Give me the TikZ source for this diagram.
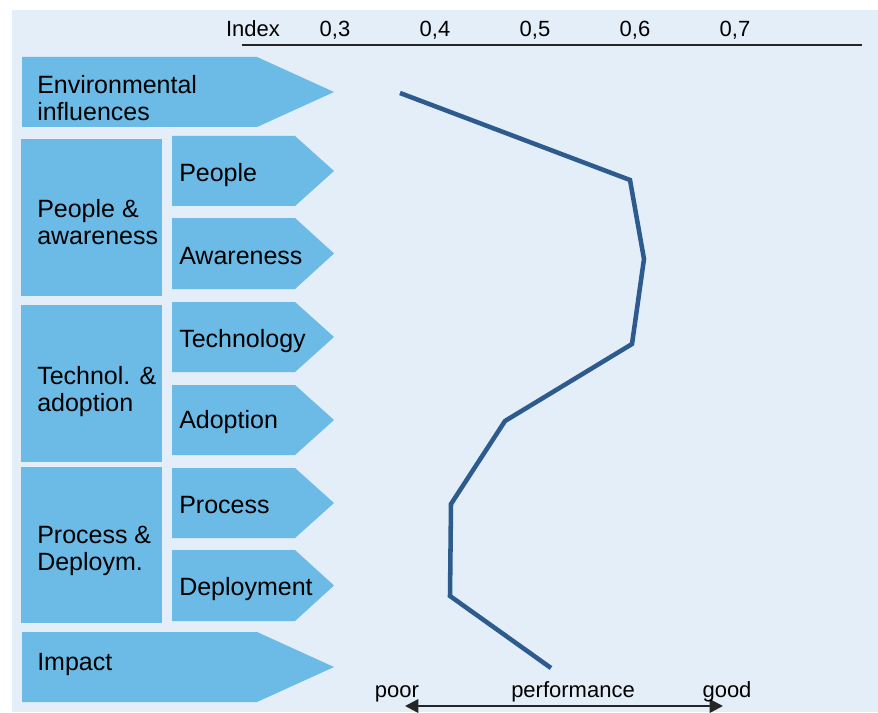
\documentclass[tikz,border=0pt]{standalone}
\usepackage{fontspec}
\setmainfont{Liberation Sans}
\usetikzlibrary{arrows.meta}
\definecolor{bgblue}{HTML}{E3EEF9}
\definecolor{boxblue}{HTML}{6CBAE6}
\definecolor{curveblue}{HTML}{2E5B8E}
\begin{document}
\begin{tikzpicture}[x=0.75pt,y=-0.75pt]

  % Definitions
  \tikzstyle{Box} = [fill=boxblue]
  \tikzstyle{Label} = [anchor=north west, align=left, inner sep=0pt, font=\fontsize{18.75pt}{20.5pt}\selectfont]
  \tikzstyle{Tick} = [anchor=base, inner sep=0pt, font=\fontsize{16.5pt}{19pt}\selectfont]
  \tikzstyle{arrow} = [line width=1.8pt,<->,>={Triangle[length=10pt,width=10pt]}]

  \useasboundingbox (0,0) rectangle (878,713);
  \fill[bgblue] (12,10) rectangle (878,712);

  % index axis
  \coordinate (axisL) at (242,45);
  \coordinate (axisR) at (862,45);
  \draw[line width=2pt, black!85] (axisL) -- (axisR);
  \node (index) [Tick] at (253,37) {Index};
  \node (t3) [Tick] at (335,37) {0,3};
  \node (t4) [Tick] at (435,37) {0,4};
  \node (t5) [Tick] at (535,37) {0,5};
  \node (t6) [Tick] at (635,37) {0,6};
  \node (t7) [Tick] at (735,37) {0,7};

  % outer arrows
  \fill[Box] (22,57) -- (257,57) -- (334,92) -- (257,127) -- (22,127) -- cycle;
  \fill[Box] (22,632) -- (257,632) -- (334,667) -- (257,702) -- (22,702) -- cycle;

  % group boxes
  \fill[Box] (21,139) rectangle (162,296);
  \fill[Box] (21,305) rectangle (162,462);
  \fill[Box] (21,467) rectangle (162,623);

  % inner arrows
  \fill[Box] (172,136) -- (295,136) -- (334,171) -- (295,206) -- (172,206) -- cycle;
  \fill[Box] (172,218) -- (295,218) -- (334,253.5) -- (295,289) -- (172,289) -- cycle;
  \fill[Box] (172,302) -- (295,302) -- (334,337) -- (295,372) -- (172,372) -- cycle;
  \fill[Box] (172,385) -- (295,385) -- (334,420) -- (295,455) -- (172,455) -- cycle;
  \fill[Box] (172,468) -- (295,468) -- (334,503) -- (295,538) -- (172,538) -- cycle;
  \fill[Box] (172,550) -- (295,550) -- (334,585.5) -- (295,621) -- (172,621) -- cycle;

  % labels
  \node (envL) [Label] at (37,75) {Environmental\\influences};
  \node (peopleawL) [Label] at (37,199) {People \&\\awareness};
  \node (techadL) [Label] at (37,366) {Technol. \&\\adoption};
  \node (procdepL) [Label] at (37,526) {Process \&\\Deploym.};
  \node (peopleL) [Label] at (179,163) {People};
  \node (awareL) [Label] at (179,247) {Awareness};
  \node (techL) [Label] at (179,329) {Technology};
  \node (adoptL) [Label] at (179,410) {Adoption};
  \node (procL) [Label] at (179,496) {Process};
  \node (deplL) [Label] at (179,577) {Deployment};
  \node (impactL) [Label] at (37,653) {Impact};

  % index curve
  \coordinate (env) at (400,93);
  \coordinate (people) at (630,180);
  \coordinate (aware) at (644,259);
  \coordinate (tech) at (632,344);
  \coordinate (adopt) at (505,421);
  \coordinate (proc) at (451,504);
  \coordinate (depl) at (450,596);
  \coordinate (impact) at (551,668);
  \draw[curveblue, line width=3.4pt] (env) -- (people) -- (aware) -- (tech) -- (adopt) -- (proc) -- (depl) -- (impact);

  % performance scale
  \coordinate (poorend) at (405,706);
  \coordinate (goodend) at (723,706);
  \draw[arrow, black!85] (poorend) -- (goodend);
  \node (poor) [Tick] at (397,697) {poor};
  \node (perf) [Tick] at (573,697) {performance};
  \node (good) [Tick] at (727,697) {good};

\end{tikzpicture}
\end{document}
